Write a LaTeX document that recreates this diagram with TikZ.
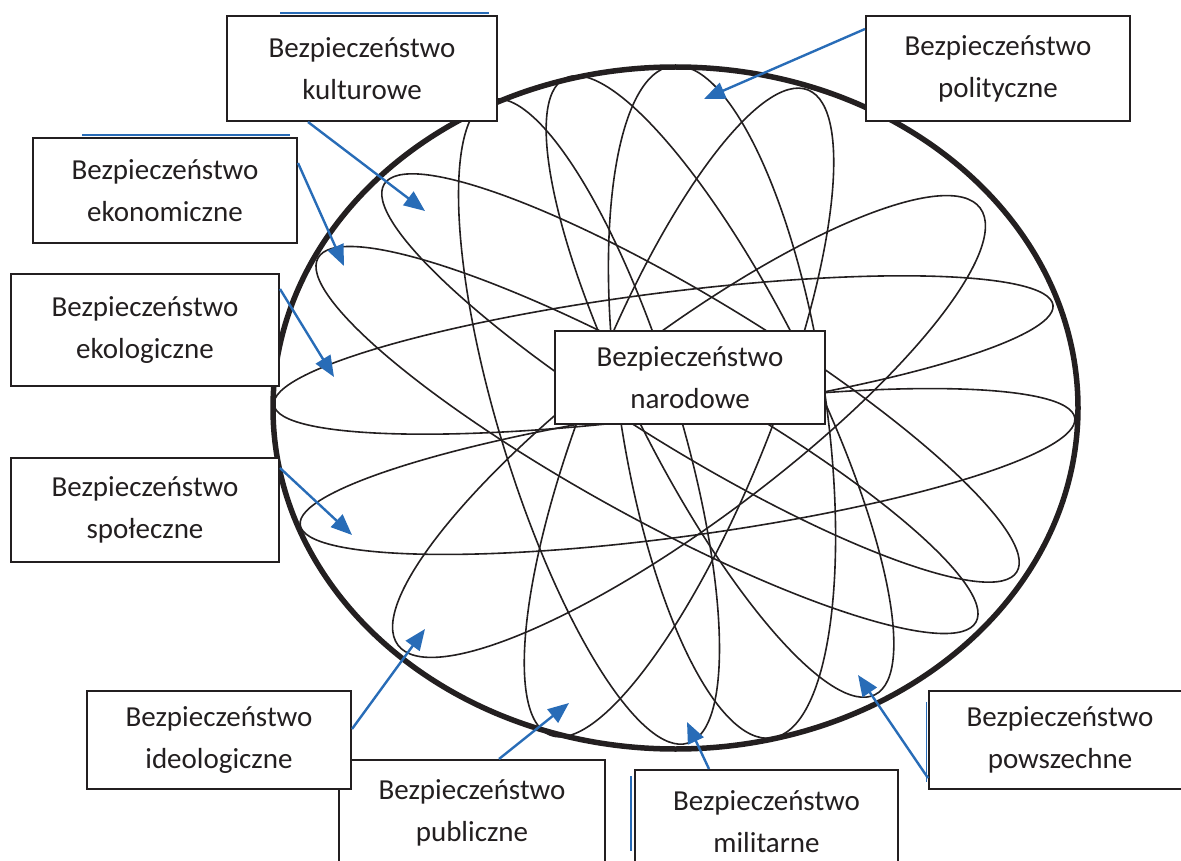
\documentclass[tikz,border=0pt]{standalone}
\usepackage{fontspec}
\setmainfont{Carlito}
\usetikzlibrary{arrows.meta}
\definecolor{ink}{RGB}{35,31,32}
\definecolor{arrowblue}{RGB}{40,108,183}

\begin{document}
\begin{tikzpicture}
[every node/.style={inner sep=0pt},
 box/.style={rectangle, draw=ink, line width=2pt, fill=white, align=center, text=ink, font=\fontsize{29}{42}\selectfont},
 petal/.style={line width=1.6pt, color=ink},
 arr/.style={line width=2.4pt, color=arrowblue, -{Triangle[length=21pt, width=17pt]}},
 edgeline/.style={line width=2pt, color=arrowblue}]
\useasboundingbox (0pt, 0pt) rectangle (1181pt, -861pt);
\draw [line width=5.5pt, color=ink] (675.5pt, -408pt) ellipse (402.5pt and 341pt);
% petals
\draw [petal, rotate around={7.3:(663.5pt, -355pt)}] (663.5pt, -355pt) ellipse (392.7pt and 62pt);
\draw [petal, rotate around={7.86:(687.5pt, -471.5pt)}] (687.5pt, -471.5pt) ellipse (391pt and 64pt);
\draw [petal, rotate around={-28.95:(647pt, -440pt)}] (647pt, -440pt) ellipse (376pt and 75pt);
\draw [petal, rotate around={-31.5:(700.5pt, -378pt)}] (700.5pt, -378pt) ellipse (371pt and 75pt);
\draw [petal, rotate around={36.9:(689pt, -426.5pt)}] (689pt, -426.5pt) ellipse (364pt and 93pt);
\draw [petal, rotate around={-72.9:(589pt, -421.5pt)}] (589pt, -421.5pt) ellipse (336.5pt and 89pt);
\draw [petal, rotate around={-63.3:(720pt, -386.5pt)}] (720pt, -386.5pt) ellipse (345pt and 88pt);
\draw [petal, rotate around={-81.5:(722pt, -402pt)}] (722pt, -402pt) ellipse (339.7pt and 103pt);
\draw [petal, rotate around={-111.8:(679pt, -412.5pt)}] (679pt, -412.5pt) ellipse (347.4pt and 92pt);
% boxes
\node (1) [box, minimum width=270pt, minimum height=105pt] at (362pt, -68.5pt) {Bezpieczeństwo\\kulturowe};
\node (2) [box, minimum width=264pt, minimum height=105pt] at (998pt, -68.5pt) {Bezpieczeństwo\\polityczne};
\node (3) [box, minimum width=264pt, minimum height=105pt] at (165pt, -190.5pt) {Bezpieczeństwo\\ekonomiczne};
\node (4) [box, minimum width=268pt, minimum height=112pt] at (145pt, -330pt) {Bezpieczeństwo\\ekologiczne};
\node (5) [box, minimum width=268pt, minimum height=104pt] at (145pt, -510pt) {Bezpieczeństwo\\społeczne};
\node (7) [box, minimum width=266pt, minimum height=106pt] at (472pt, -813pt) {Bezpieczeństwo\\publiczne};
\node (6) [box, minimum width=264pt, minimum height=98pt] at (219pt, -740pt) {Bezpieczeństwo\\ideologiczne};
\node (8) [box, minimum width=263pt, minimum height=104pt] at (766.5pt, -822pt) {Bezpieczeństwo\\militarne};
\node (9) [box, minimum width=262pt, minimum height=98pt] at (1060pt, -740pt) {Bezpieczeństwo\\powszechne};
\node (0) [box, minimum width=270pt, minimum height=93pt] at (690pt, -377.5pt) {Bezpieczeństwo\\narodowe};
% blue edges
\draw [edgeline] ([xshift=-82pt, yshift=2pt]1.north) -- ([xshift=127pt, yshift=2pt]1.north);
\draw [edgeline] ([xshift=-83pt, yshift=2pt]3.north) -- ([xshift=125pt, yshift=2pt]3.north);
\draw [edgeline] ([xshift=-3pt, yshift=-7pt]8.north west) -- ([xshift=-3pt, yshift=-82pt]8.north west);
\draw [edgeline, line width=1.2pt] ([xshift=-1.5pt, yshift=-12pt]9.north west) -- ([xshift=-1.5pt, yshift=-92pt]9.north west);
% arrows
\coordinate (t1) at (425pt, -211pt);
\coordinate (t2) at (704pt, -99pt);
\coordinate (t3) at (344pt, -266pt);
\coordinate (t4) at (334pt, -377pt);
\coordinate (t5) at (352pt, -535pt);
\coordinate (t6) at (425pt, -629pt);
\coordinate (t7) at (569pt, -703pt);
\coordinate (t8) at (687pt, -722pt);
\coordinate (t9) at (858pt, -675pt);
\draw [arr] ([xshift=-54pt]1.south) to (t1);
\draw [arr] ([yshift=39.5pt]2.west) to (t2);
\draw [arr] ([yshift=27.5pt]3.east) to (t3);
\draw [arr] ([yshift=41pt]4.east) to (t4);
\draw [arr] ([yshift=42pt]5.east) to (t5);
\draw [arr] ([yshift=11pt]6.east) to (t6);
\draw [arr] ([xshift=27pt]7.north) to (t7);
\draw [arr] ([xshift=-57.5pt]8.north) to (t8);
\draw [arr] ([yshift=-38pt]9.west) to (t9);
\end{tikzpicture}
\end{document}
